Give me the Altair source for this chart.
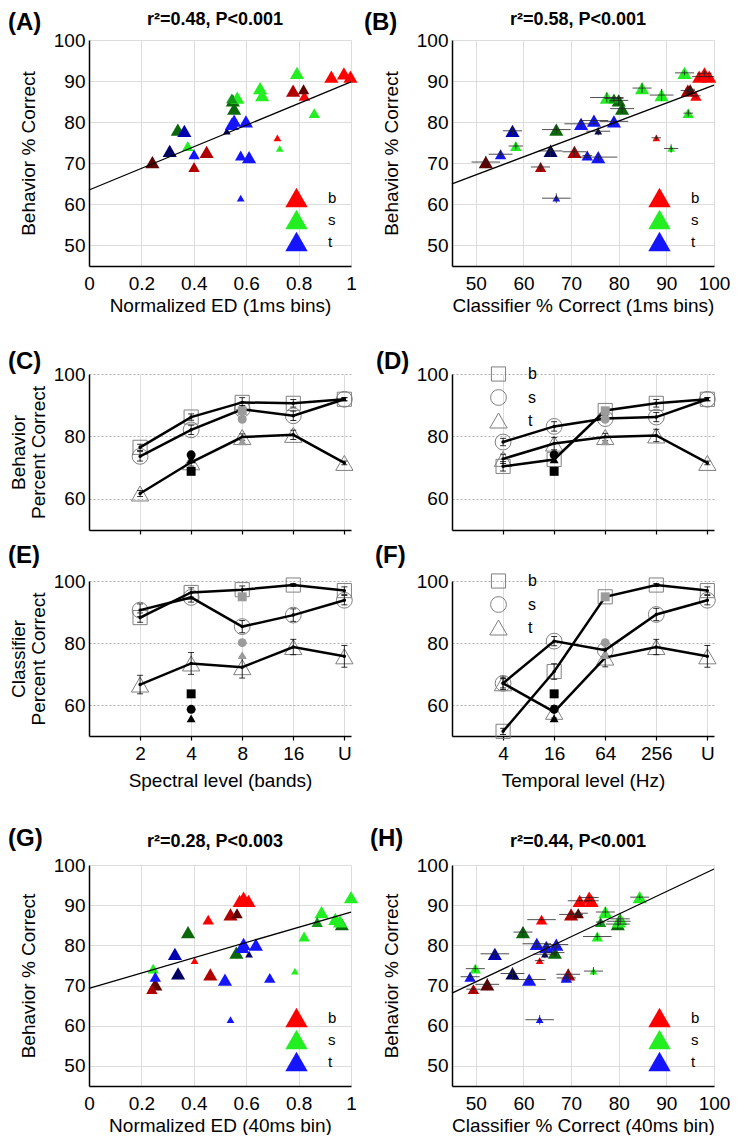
import altair as alt
import pandas as pd

FONT = "Liberation Sans"

# ---------------- scatter panels: one entry per stimulus condition ----------------
cond_group = ["b"] * 10 + ["s"] * 11 + ["t"] * 10
cond_shade = [1, 1, 1, 1, 1, 3, 2, 2, 3, 2,
              1, 1, 1, 1, 1, 3, 3, 3, 1, 1, 2,
              1, 1, 1, 1, 1, 3, 2, 3, 1, 1]
cond_size = ["S", "M", "L", "L", "L", "L", "L", "L", "M", "M",
             "S", "M", "L", "L", "L", "L", "L", "L", "L", "M", "M",
             "S", "M", "L", "L", "L", "L", "L", "S", "M", "L"]
behav = [76.2, 86.4, 91.1, 91.9, 91.1, 70.3, 72.8, 87.7, 88.0, 69.1,
         73.6, 82.2, 88.3, 86.6, 92.0, 78.2, 83.3, 85.3, 86.0, 74.2, 85.8,
         61.5, 71.9, 80.4, 80.2, 71.5, 73.0, 77.9, 77.8, 72.2, 79.6]
behav_se = [0.6, 0.7, 0.8, 0.6, 0.6, 1.5, 1.2, 1.0, 0.8, 1.0,
            1.0, 0.8, 1.2, 1.5, 0.6, 1.0, 1.2, 1.2, 1.2, 0.8, 0.8,
            1.2, 1.0, 1.0, 1.0, 1.0, 1.5, 1.0, 1.0, 1.0, 1.2]
ed_1ms = [.719, .822, .925, .973, .998, .242, .449, .779, .819, .401,
          .728, .860, .653, .661, .794, .339, .554, .549, .566, .377, .545,
          .579, .579, .554, .599, .611, .308, .364, .526, .401, .545]
cls_1ms = [87.9, 96.2, 96.9, 98.0, 99.0, 52.1, 70.7, 94.5, 95.0, 63.6,
           91.0, 94.6, 84.9, 89.0, 93.8, 66.9, 80.7, 80.0, 77.5, 58.4, 79.0,
           66.9, 73.4, 74.8, 79.0, 75.7, 65.7, 57.7, 75.7, 55.2, 72.1]
cls_1ms_se = [1.0, 1.0, 1.5, 1.5, 1.0, 3.0, 2.5, 1.5, 1.0, 2.0,
              1.5, 1.0, 2.0, 2.5, 2.0, 3.0, 2.5, 2.0, 3.5, 1.5, 2.0,
              3.0, 1.0, 3.0, 3.0, 4.0, 2.5, 2.0, 2.5, 2.5, 3.5]
ed_40ms = [.403, .455, .575, .590, .609, .253, .463, .540, .565, .240,
           .786, .821, .8875, .940, 1.0, .5625, .378, .965, .958, .245, .871,
           .540, .690, .590, .637, .519, .340, .328, .611, .253, .585]
cls_40ms = [63.4, 63.8, 71.8, 73.8, 74.3, 52.4, 69.4, 70.0, 71.5, 49.5,
            74.7, 75.5, 77.2, 80.3, 84.4, 66.6, 59.9, 79.8, 80.0, 49.9, 76.2,
            63.4, 69.0, 62.8, 66.9, 61.2, 57.7, 54.0, 64.5, 48.8, 64.8]
cls_40ms_se = [1.0, 3.0, 2.5, 2.0, 1.5, 2.5, 2.5, 2.5, 2.0, 1.5,
               2.0, 3.0, 2.0, 2.0, 2.0, 2.0, 2.0, 2.5, 2.5, 2.0, 1.0,
               3.0, 2.0, 3.0, 2.5, 3.5, 2.5, 3.0, 2.5, 2.0, 3.0]

shade_keys = ["b1", "b2", "b3", "s1", "s2", "s3", "t1", "t2", "t3"]
shade_cols = ["#ff0000", "#b00000", "#5e0000", "#22ee22", "#12961a", "#0a680a",
              "#1414ff", "#0000b0", "#000064"]

# regression lines (end points)
fitA_x, fitA_y = [0, 1], [63.5, 89.8]
fitB_x, fitB_y = [45, 100], [65.0, 89.0]
fitG_x, fitG_y = [0, 1], [69.3, 88.3]
fitH_x, fitH_y = [45, 100], [68.1, 99.0]

titles = ["r²=0.48, P<0.001", "r²=0.58, P<0.001", "r²=0.28, P<0.003", "r²=0.44, P<0.001"]
panel_labels = ["(A)", "(B)", "(C)", "(D)", "(E)", "(F)", "(G)", "(H)"]

# ---------------- level curves ----------------
spec_levels = ["2", "4", "8", "16", "U"]
temp_levels = ["4", "16", "64", "256", "U"]

C_b = [76.5, 86.2, 90.9, 90.6, 91.9]
C_s = [73.6, 82.1, 88.7, 86.6, 91.9]
C_t = [61.7, 71.7, 79.8, 80.5, 71.5]
C_be = [1.0, 1.0, 1.5, 1.2, 0.5]
C_se = [1.5, 1.5, 1.2, 1.5, 0.5]
C_te = [1.0, 1.2, 1.0, 1.5, 0.6]

D_b = [70.4, 72.6, 88.3, 90.6, 91.9]
D_s = [78.2, 83.2, 85.7, 86.2, 91.9]
D_t = [72.8, 77.7, 79.8, 80.3, 71.5]
D_be = [1.5, 1.0, 0.8, 1.2, 0.5]
D_se = [1.2, 1.5, 1.0, 1.5, 0.5]
D_te = [1.5, 2.0, 1.2, 2.0, 0.6]

E_b = [88.2, 96.3, 97.2, 98.7, 96.9]
E_s = [90.6, 94.7, 85.3, 89.0, 93.8]
E_t = [66.6, 73.4, 72.2, 78.7, 75.7]
E_be = [1.5, 1.5, 1.2, 0.5, 1.2]
E_se = [2.0, 1.5, 2.0, 2.0, 1.5]
E_te = [3.0, 3.5, 3.5, 2.5, 3.5]

F_b = [51.5, 70.8, 94.9, 98.7, 96.9]
F_s = [67.0, 80.6, 77.7, 89.2, 93.8]
F_t = [67.0, 57.8, 75.3, 78.7, 75.7]
F_be = [1.0, 2.5, 0.8, 0.5, 1.2]
F_se = [1.5, 1.5, 2.0, 2.0, 1.5]
F_te = [2.0, 2.0, 3.0, 2.5, 3.5]

# combined spectro-temporal conditions (first = black, second = gray)
comb_kind = ["combo1", "combo1", "combo1", "combo2", "combo2", "combo2"]
comb_grp = ["b", "s", "t", "b", "s", "t"]
comb_behav = [68.8, 74.1, 72.6, 88.2, 85.5, 78.4]
comb_class = [63.6, 58.6, 55.7, 94.9, 80.1, 76.1]
comb_spec_level = ["4", "4", "4", "8", "8", "8"]
comb_temp_level = ["16", "16", "16", "64", "64", "64"]

W = 262
H_SC1, H_CUR1, H_CUR2, H_SC2 = 226, 156, 155, 221


def label_layer(text, dx, dy, lh=None):
    kw = dict(align="left", baseline="top", font=FONT, fontSize=24,
              fontWeight="bold", color="black")
    if lh is not None:
        kw["lineHeight"] = lh
        text = ["", text]
    return alt.Chart(pd.DataFrame({"k": [0]})).mark_text(text=text, **kw).encode(
        x=alt.value(dx), y=alt.value(dy))


def title_layer(text, dy):
    return alt.Chart(pd.DataFrame({"k": [0]})).mark_text(
        text=text, align="center", baseline="middle", font=FONT, fontSize=18,
        fontWeight="bold", color="black").encode(x=alt.value(W / 2 - 5), y=alt.value(dy))


def scatter(xvals, xerrs, xdom, xticks, xfmt, xtitle, fitx, fity, title, title_dy, lab,
            lab_dx, lab_dy, lab_lh, h):
    codes = [g + str(s) for g, s in zip(cond_group, cond_shade)]
    df = pd.DataFrame({"x": xvals, "y": behav, "ye": behav_se, "code": codes, "sz": cond_size})
    if xerrs is not None:
        df["xe"] = xerrs
    xs = alt.Scale(domain=xdom, nice=False, zero=False)
    ys = alt.Scale(domain=[45, 100], nice=False, zero=False)
    xax = alt.Axis(values=xticks, format=xfmt, title=xtitle, ticks=False, labelFlush=False,
                   labelPadding=8, titlePadding=3)
    yax = alt.Axis(values=[50, 60, 70, 80, 90, 100], format="d", title="Behavior % Correct",
                   ticks=False, labelPadding=4, titlePadding=15)
    X = lambda f: alt.X(f, scale=xs, axis=xax)
    Y = lambda f: alt.Y(f, scale=ys, axis=yax)
    base = alt.Chart(df)
    pts = base.mark_point(shape="triangle-up", filled=True, opacity=1, strokeWidth=0).encode(
        x=X("x:Q"), y=Y("y:Q"),
        fill=alt.Fill("code:N", scale=alt.Scale(domain=shade_keys, range=shade_cols),
                      legend=alt.Legend(values=["b1", "s1", "t1"],
                                        labelExpr="substring(datum.label, 0, 1)",
                                        title=None, orient="bottom-right", offset=14,
                                        symbolType="triangle-up", symbolSize=500,
                                        symbolStrokeWidth=0, symbolOpacity=1,
                                        labelFont=FONT, labelFontSize=15, labelOffset=20,
                                        rowPadding=-2, padding=0)),
        size=alt.Size("sz:O", scale=alt.Scale(domain=["S", "M", "L"], range=[60, 200, 520]),
                      legend=None),
    )
    layers = [pts]
    if xerrs is not None:
        ex = base.transform_calculate(lo="datum.x - datum.xe", hi="datum.x + datum.xe").mark_rule(
            color="#222222", strokeWidth=0.8).encode(x=X("lo:Q"), x2="hi:Q", y=Y("y:Q"))
        ey = base.transform_calculate(lo="datum.y - datum.ye", hi="datum.y + datum.ye").mark_rule(
            color="#222222", strokeWidth=0.8).encode(x=X("x:Q"), y=Y("lo:Q"), y2="hi:Q")
        layers += [ex, ey]
    fit = alt.Chart(pd.DataFrame({"x": fitx, "y": fity})).mark_line(
        color="black", strokeWidth=1.3).encode(x=X("x:Q"), y=Y("y:Q"))
    layers += [fit, title_layer(title, title_dy), label_layer(lab, lab_dx, lab_dy, lab_lh)]
    return alt.layer(*layers).properties(width=W, height=h)


def curves(vb, vs, vt, eb, es, et, comb_vals, comb_lvls, levels, xtitle, ytitle,
           show_xlabels, show_legend, lab, lab_dx, lab_dy, lab_lh, h):
    rows = []
    for g, vals, errs in (("b", vb, eb), ("s", vs, es), ("t", vt, et)):
        for i, (v, e) in enumerate(zip(vals, errs)):
            rows.append({"lvl": i + 1, "grp": g, "v": v, "e": e})
    df = pd.DataFrame(rows)
    comb = pd.DataFrame({"lvl": [levels.index(c) + 1 for c in comb_lvls], "grp": comb_grp,
                         "v": comb_vals, "kind": comb_kind})
    label_expr = "[" + ",".join("'%s'" % l for l in levels) + "][datum.value - 1]"
    xs = alt.Scale(domain=[0, 5.13], nice=False, zero=False)
    ys = alt.Scale(domain=[50, 100], nice=False, zero=False)
    xax = alt.Axis(values=[1, 2, 3, 4, 5], labelExpr=label_expr, labels=show_xlabels,
                   title=xtitle, ticks=True, tickSize=4, tickWidth=1.2, labelPadding=4,
                   titlePadding=8, labelFlush=False)
    yax = alt.Axis(values=[60, 80, 100], title=ytitle, ticks=False, grid=True,
                   gridDash=[2, 2], gridColor="#9a9a9a", gridWidth=0.8, labelPadding=4,
                   titlePadding=5, titleLineHeight=20)
    X = lambda f: alt.X(f, scale=xs, axis=xax)
    Y = lambda f: alt.Y(f, scale=ys, axis=yax)
    shape_scale = alt.Scale(domain=["b", "s", "t"], range=["square", "circle", "triangle-up"])
    if show_legend:
        leg = alt.Legend(orient="none", legendX=37, legendY=-8, title=None, labelFont=FONT,
                         labelFontSize=16, labelOffset=20, rowPadding=3, padding=0,
                         symbolStrokeColor="#7f7f7f", symbolFillColor="transparent",
                         symbolStrokeWidth=1)
    else:
        leg = None
    base = alt.Chart(df)
    opn = base.mark_point(filled=False, color="#808080", strokeWidth=1, opacity=1).encode(
        x=X("lvl:Q"), y=Y("v:Q"),
        shape=alt.Shape("grp:N", scale=shape_scale, legend=leg),
        size=alt.Size("grp:N", scale=alt.Scale(domain=["b", "s", "t"], range=[200, 300, 300]),
                      legend=leg))
    errb = base.transform_calculate(lo="datum.v - datum.e", hi="datum.v + datum.e")
    bars = errb.mark_rule(color="black", strokeWidth=0.8).encode(
        x=X("lvl:Q"), y=Y("lo:Q"), y2="hi:Q")
    cap_lo = errb.mark_tick(orient="horizontal", size=6, thickness=0.8, color="black",
                            opacity=1).encode(x=X("lvl:Q"), y=Y("lo:Q"))
    cap_hi = errb.mark_tick(orient="horizontal", size=6, thickness=0.8, color="black",
                            opacity=1).encode(x=X("lvl:Q"), y=Y("hi:Q"))
    lines = base.mark_line(color="black", strokeWidth=2.5).encode(
        x=X("lvl:Q"), y=Y("v:Q"), detail="grp:N", order="lvl:Q")
    dots = base.mark_point(filled=True, size=12, color="black", opacity=1).encode(
        x=X("lvl:Q"), y=Y("v:Q"))
    filled = alt.Chart(comb).mark_point(filled=True, opacity=1, strokeWidth=0).encode(
        x=X("lvl:Q"), y=Y("v:Q"),
        shape=alt.Shape("grp:N", scale=shape_scale, legend=None),
        fill=alt.Fill("kind:N", scale=alt.Scale(domain=["combo1", "combo2"],
                                                range=["#000000", "#9b9b9b"]), legend=None),
        size=alt.value(80))
    return alt.layer(opn, bars, cap_lo, cap_hi, lines, dots, filled,
                     label_layer(lab, lab_dx, lab_dy, lab_lh)).properties(width=W, height=h)


A = scatter(ed_1ms, None, [0, 1], [0, 0.2, 0.4, 0.6, 0.8, 1], "~g", "Normalized ED (1ms bins)",
            fitA_x, fitA_y, titles[0], -20, panel_labels[0], -81, -29, None, H_SC1)
B = scatter(cls_1ms, cls_1ms_se, [45, 100], [50, 60, 70, 80, 90, 100], "d",
            "Classifier % Correct (1ms bins)", fitB_x, fitB_y, titles[1], -20, panel_labels[1],
            -88, -29, None, H_SC1)
C = curves(C_b, C_s, C_t, C_be, C_se, C_te, comb_behav, comb_spec_level, spec_levels, None,
           ["Behavior", "Percent Correct"], False, False, panel_labels[2], -81, -50, 26, H_CUR1)
D = curves(D_b, D_s, D_t, D_be, D_se, D_te, comb_behav, comb_temp_level, temp_levels, None,
           None, False, True, panel_labels[3], -76, -50, 26, H_CUR1)
E = curves(E_b, E_s, E_t, E_be, E_se, E_te, comb_class, comb_spec_level, spec_levels,
           "Spectral level (bands)", ["Classifier", "Percent Correct"], True, False,
           panel_labels[4], -81, -37, None, H_CUR2)
F = curves(F_b, F_s, F_t, F_be, F_se, F_te, comb_class, comb_temp_level, temp_levels,
           "Temporal level (Hz)", None, True, True, panel_labels[5], -77, -37, None, H_CUR2)
G = scatter(ed_40ms, None, [0, 1], [0, 0.2, 0.4, 0.6, 0.8, 1], "~g", "Normalized ED (40ms bin)",
            fitG_x, fitG_y, titles[2], -23, panel_labels[6], -81, -66, 28, H_SC2)
H = scatter(cls_40ms, cls_40ms_se, [45, 100], [50, 60, 70, 80, 90, 100], "d",
            "Classifier % Correct (40ms bin)", fitH_x, fitH_y, titles[3], -23, panel_labels[7],
            -82, -66, 28, H_SC2)

chart = alt.concat(A, B, C, D, E, F, G, H, columns=2, align="each", bounds="full",
                   spacing={"row": 9, "column": 5}).resolve_scale(
    fill="independent", shape="independent", size="independent").resolve_legend(
    fill="independent", shape="independent", size="independent").properties(
    padding={"top": 3, "left": 0, "right": 0, "bottom": 0}).configure_view(
    stroke=None).configure_axis(
    labelFont=FONT, titleFont=FONT, labelFontSize=19, titleFontSize=19,
    titleFontWeight="normal", labelColor="black", titleColor="black",
    domainColor="black", domainWidth=1.5, tickColor="black")

chart.save("out.html", embed_options={"renderer": "svg", "actions": False})
